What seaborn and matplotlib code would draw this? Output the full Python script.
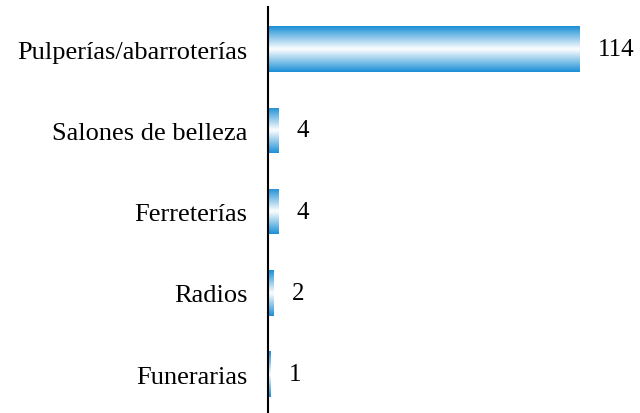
import numpy as np
import pandas as pd
import matplotlib
matplotlib.use("Agg")
import matplotlib.pyplot as plt
from matplotlib.colors import LinearSegmentedColormap
import seaborn as sns

categories = ["Pulperías/abarroterías", "Salones de belleza", "Ferreterías", "Radios", "Funerarias"]
values = [114, 4, 4, 2, 1]

df = pd.DataFrame({"categoria": categories, "n": values})

sns.set_style("white")
plt.rcParams["font.family"] = ["Liberation Serif", "DejaVu Serif"]
plt.rcParams["text.color"] = "black"
plt.rcParams["ytick.color"] = "black"

fig = plt.figure(figsize=(6.4, 4.14), dpi=100)
ax = fig.add_axes([0.419, 0.0, 0.571, 0.981])

sns.barplot(data=df, y="categoria", x="n", orient="h", width=0.56,
            color="#1b8fd6", ax=ax)

# vertical gradient: blue at edges, white in the middle
cmap = LinearSegmentedColormap.from_list("bw", ["#1b8fd6", "#ffffff", "#1b8fd6"])
grad = np.linspace(0, 1, 256).reshape(-1, 1)
for p in ax.patches:
    x0, y0 = p.get_x(), p.get_y()
    w, h = p.get_width(), p.get_height()
    im = ax.imshow(grad, cmap=cmap, aspect="auto", interpolation="bicubic",
                   extent=(x0, x0 + w, y0 + h, y0), zorder=2)
    im.set_clip_path(p)
    p.set_facecolor("none")
    p.set_edgecolor("none")
    ax.text(x0 + w + 6.5, y0 + h / 2, str(int(w)), va="center", ha="left",
            fontsize=18, color="black")

ax.set_xlim(0, 133.6)
ax.set_ylim(4.48, -0.52)
ax.set_xlabel("")
ax.set_ylabel("")
ax.set_xticks([])
ax.tick_params(axis="y", length=0, pad=15, labelsize=19, labelcolor="black")
for s in ["top", "right", "bottom"]:
    ax.spines[s].set_visible(False)
ax.spines["left"].set_color("black")
ax.spines["left"].set_linewidth(1.5)

fig.savefig("out.png", dpi=100)
